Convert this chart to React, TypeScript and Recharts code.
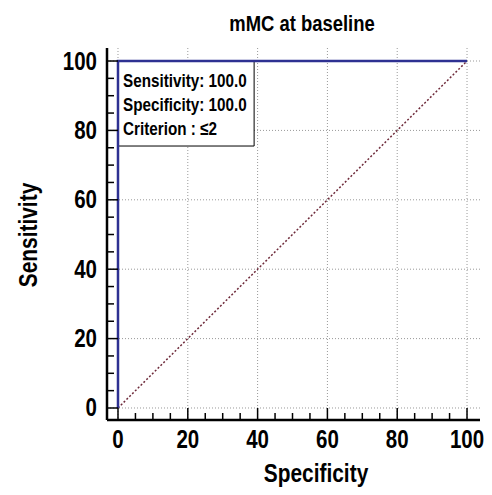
import React from "react";
import { LineChart, Line, XAxis, YAxis, CartesianGrid, ReferenceArea } from "recharts";

const rocSpecificity = [0, 0, 100];
const rocSensitivity = [0, 100, 100];
const diagSpecificity = [0, 100];
const diagSensitivity = [0, 100];
const majorTicks = [0, 20, 40, 60, 80, 100];
const allTicks = [0, 5, 10, 15, 20, 25, 30, 35, 40, 45, 50, 55, 60, 65, 70, 75, 80, 85, 90, 95, 100];
const legendLines = ["Sensitivity: 100.0", "Specificity: 100.0", "Criterion : \u22642"];
const legendBox = { x1: 0, x2: 39, y1: 75.5, y2: 100 };

const rocData = rocSpecificity.map((x, i) => ({ x, y: rocSensitivity[i] }));
const diagData = diagSpecificity.map((x, i) => ({ x, y: diagSensitivity[i] }));

const FONT = "'Liberation Sans', Arial, sans-serif";
const NARROW = 0.82;

const NText = (props: any) => {
  const { x, y, size, anchor = "start", rotate = 0, children } = props;
  return (
    <g transform={`translate(${x},${y}) rotate(${rotate}) scale(${NARROW},1)`}>
      <text x={0} y={0} textAnchor={anchor} fontFamily={FONT} fontWeight="bold" fontSize={size} fill="#000">
        {children}
      </text>
    </g>
  );
};

const XTick = (props: any) => {
  const { x, y, payload } = props;
  const major = majorTicks.includes(payload.value);
  return (
    <g>
      <line x1={x} y1={y} x2={x} y2={y - (major ? 12 : 7)} stroke="#000" strokeWidth={1.5} />
      {major && (
        <NText x={x} y={y + 28} size={25} anchor="middle">
          {payload.value}
        </NText>
      )}
    </g>
  );
};

const YTick = (props: any) => {
  const { x, y, payload } = props;
  const major = majorTicks.includes(payload.value);
  return (
    <g>
      <line x1={x} y1={y} x2={x + (major ? 11 : 7)} y2={y} stroke="#000" strokeWidth={1.5} />
      {major && (
        <NText x={x - 10} y={y + 8.5} size={25} anchor="end">
          {payload.value}
        </NText>
      )}
    </g>
  );
};

const LegendContent = (props: any) => {
  const vb = props.viewBox || {};
  return (
    <g>
      {legendLines.map((t, i) => (
        <NText key={i} x={vb.x + 5} y={vb.y + 26 + i * 24} size={18.6}>
          {t}
        </NText>
      ))}
    </g>
  );
};

export default function App() {
  return (
    <div style={{ position: "absolute", left: 0, top: 0, width: 492, height: 495, background: "#fff" }}>
      <LineChart width={492} height={495} margin={{ top: 48, right: 12, bottom: 0, left: 0 }}>
        <CartesianGrid
          stroke="#999"
          strokeDasharray="1 2"
          horizontalValues={majorTicks}
          verticalValues={majorTicks}
        />
        <XAxis
          type="number"
          dataKey="x"
          domain={[-3.15, 103.72]}
          allowDataOverflow
          ticks={allTicks}
          interval={0}
          height={75}
          tickSize={0}
          tickMargin={0}
          tickLine={false}
          axisLine={{ stroke: "#000", strokeWidth: 2.5 }}
          tick={<XTick />}
        />
        <YAxis
          type="number"
          dataKey="y"
          domain={[-3.46, 103.75]}
          allowDataOverflow
          ticks={allTicks}
          interval={0}
          width={107}
          tickSize={0}
          tickMargin={0}
          tickLine={false}
          axisLine={{ stroke: "#000", strokeWidth: 2.5 }}
          tick={<YTick />}
        />
        <ReferenceArea
          x1={legendBox.x1}
          x2={legendBox.x2}
          y1={legendBox.y1}
          y2={legendBox.y2}
          fill="#fff"
          fillOpacity={1}
          stroke="#000"
          strokeWidth={1}
          label={<LegendContent />}
        />
        <Line
          data={diagData}
          dataKey="y"
          type="linear"
          stroke="#6e2a3a"
          strokeWidth={1.5}
          strokeDasharray="2 2"
          dot={false}
          isAnimationActive={false}
        />
        <Line
          data={rocData}
          dataKey="y"
          type="linear"
          stroke="#2e3192"
          strokeWidth={2.5}
          dot={false}
          isAnimationActive={false}
        />
        <NText x={302} y={31} size={22.5} anchor="middle">
          mMC at baseline
        </NText>
        <NText x={316} y={482} size={25.5} anchor="middle">
          Specificity
        </NText>
        <NText x={37} y={235} size={25.5} anchor="middle" rotate={-90}>
          Sensitivity
        </NText>
      </LineChart>
    </div>
  );
}
